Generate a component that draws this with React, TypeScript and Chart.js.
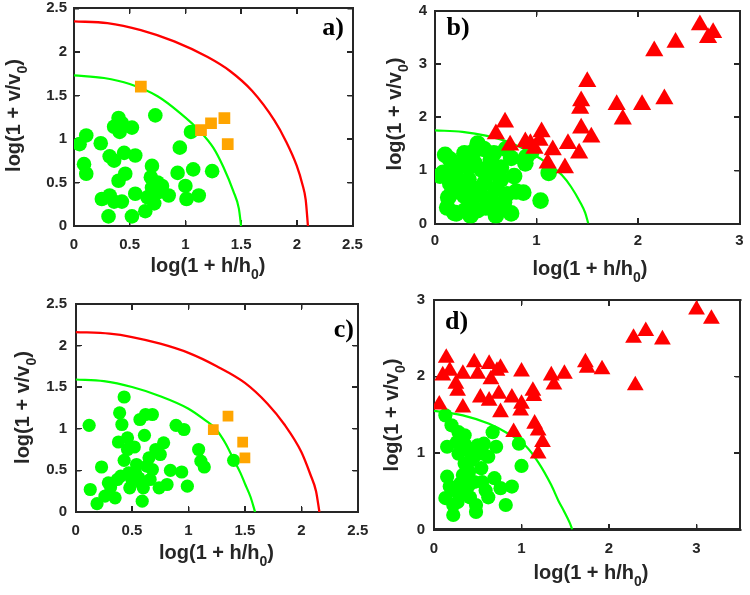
import { useEffect, useRef, useState } from "react";
import { Chart, registerables } from "chart.js";

Chart.register(...registerables);

type Pt = [number, number];

const GREEN = "#00ff00";
const RED = "#ff0000";
const ORANGE = "#ffa500";
const INK = "#262626";
const SANS = '"Liberation Sans", Arial, Helvetica, sans-serif';
const SERIF = '"Liberation Serif", "Times New Roman", serif';

// ---------- panel a ----------
const A_X_TICKS = [0, 0.5, 1, 1.5, 2, 2.5];
const A_Y_TICKS = [0, 0.5, 1, 1.5, 2, 2.5];
const A_RED_CURVE: Pt[] = [
  [0, 2.35], [0.3, 2.33], [0.6, 2.25], [0.9, 2.12], [1.2, 1.94], [1.4, 1.78],
  [1.6, 1.55], [1.8, 1.21], [1.9, 0.98], [2.0, 0.69], [2.05, 0.48], [2.08, 0.3], [2.1, 0],
];
const A_GREEN_CURVE: Pt[] = [
  [0, 1.73], [0.27, 1.7], [0.5, 1.63], [0.75, 1.49], [0.95, 1.3], [1.13, 1.09],
  [1.25, 0.9], [1.34, 0.68], [1.43, 0.4], [1.48, 0.2], [1.5, 0],
];
const A_CIRCLES: Pt[] = [
  [0.05, 0.94], [0.11, 1.04], [0.09, 0.71], [0.11, 0.6], [0.24, 0.95], [0.32, 0.8],
  [0.36, 0.75], [0.4, 1.24], [0.36, 1.14], [0.41, 1.08], [0.43, 1.18], [0.45, 0.84],
  [0.52, 1.13], [0.55, 0.81], [0.46, 0.6], [0.4, 0.52], [0.25, 0.31], [0.32, 0.35],
  [0.36, 0.28], [0.43, 0.28], [0.31, 0.11], [0.52, 0.11], [0.55, 0.37], [0.64, 0.17],
  [0.7, 0.69], [0.69, 0.56], [0.7, 0.44], [0.75, 0.5], [0.66, 0.33], [0.72, 0.26],
  [0.73, 1.27], [0.76, 0.39], [0.85, 0.35], [0.93, 0.61], [0.95, 0.9], [1.0, 0.46],
  [1.01, 0.31], [1.07, 0.65], [1.12, 0.35], [1.24, 0.63], [1.05, 1.08], [0.79, 0.46],
];
const A_SQUARES: Pt[] = [[0.6, 1.6], [1.14, 1.1], [1.23, 1.18], [1.35, 1.24], [1.38, 0.94]];

// ---------- panel b ----------
const B_X_TICKS = [0, 1, 2, 3];
const B_Y_TICKS = [0, 1, 2, 3, 4];
const B_GREEN_CURVE: Pt[] = [
  [0, 1.75], [0.27, 1.72], [0.5, 1.65], [0.75, 1.51], [0.95, 1.32], [1.13, 1.1],
  [1.25, 0.91], [1.34, 0.69], [1.43, 0.4], [1.48, 0.2], [1.51, 0],
];
const B_CIRCLES: Pt[] = [
  [0.1, 1.29], [0.08, 0.95], [0.29, 1.32], [0.42, 1.5], [0.39, 1.13], [0.58, 1.32],
  [0.54, 1.01], [0.75, 1.23], [0.89, 1.13], [0.17, 0.58], [0.29, 0.52], [0.21, 0.19],
  [0.42, 0.25], [0.62, 0.28], [0.75, 0.19], [0.71, 0.55], [0.87, 0.58], [1.04, 0.43],
  [1.12, 0.95], [0.49, 0.77], [0.65, 0.83], [0.33, 0.83], [0.78, 0.89], [0.2, 0.95],
  [0.55, 0.46], [0.36, 0.4], [0.46, 1.01], [0.33, 1.07], [0.13, 0.49], [0.19, 0.2],
  [0.05, 0.9], [0.15, 0.75], [0.25, 0.7], [0.3, 0.25], [0.45, 0.55], [0.5, 0.3],
  [0.6, 0.65], [0.65, 1.05], [0.7, 1.4], [0.55, 1.2], [0.48, 1.4], [0.38, 1.35],
  [0.25, 1.1], [0.15, 1.2], [0.6, 0.15], [0.35, 0.15], [0.12, 0.3], [0.4, 0.65],
  [0.68, 0.4], [0.8, 0.6], [0.9, 1.25], [0.95, 1.35], [0.58, 0.95],
];
const B_TRIANGLES: Pt[] = [
  [2.61, 3.73], [2.74, 3.58], [2.69, 3.49], [2.16, 3.24], [2.37, 3.4], [1.5, 2.66],
  [1.44, 2.3], [1.43, 2.16], [1.79, 2.23], [1.85, 1.96], [2.04, 2.23], [2.26, 2.34],
  [1.44, 1.79], [1.54, 1.62], [1.42, 1.32], [1.31, 1.5], [1.28, 1.04], [0.69, 1.9],
  [0.6, 1.68], [0.74, 1.47], [0.89, 1.53], [1.05, 1.72], [1.03, 1.56], [1.16, 1.38],
  [1.11, 1.13], [0.98, 1.41], [0.94, 1.5],
];

// ---------- panel c ----------
const C_X_TICKS = [0, 0.5, 1, 1.5, 2, 2.5];
const C_Y_TICKS = [0, 0.5, 1, 1.5, 2, 2.5];
const C_RED_CURVE: Pt[] = [
  [0, 2.16], [0.3, 2.14], [0.5, 2.1], [0.75, 2.02], [1.0, 1.91], [1.25, 1.75],
  [1.5, 1.55], [1.7, 1.3], [1.85, 1.05], [2.0, 0.72], [2.08, 0.45], [2.13, 0.25], [2.16, 0],
];
const C_GREEN_CURVE: Pt[] = [
  [0, 1.59], [0.25, 1.57], [0.5, 1.5], [0.75, 1.39], [1.0, 1.24], [1.15, 1.1],
  [1.24, 1.0], [1.33, 0.82], [1.4, 0.63], [1.46, 0.47], [1.5, 0.34], [1.55, 0.18], [1.59, 0],
];
const C_CIRCLES: Pt[] = [
  [0.12, 1.04], [0.43, 1.38], [0.39, 1.19], [0.41, 1.05], [0.38, 0.84], [0.46, 0.89],
  [0.52, 0.78], [0.57, 1.11], [0.62, 1.17], [0.68, 1.17], [0.61, 0.92], [0.43, 0.62],
  [0.23, 0.54], [0.13, 0.27], [0.19, 0.1], [0.26, 0.19], [0.29, 0.35], [0.37, 0.39],
  [0.35, 0.17], [0.47, 0.47], [0.53, 0.48], [0.56, 0.41], [0.48, 0.29], [0.59, 0.13],
  [0.6, 0.29], [0.66, 0.39], [0.65, 0.65], [0.71, 0.75], [0.75, 0.69], [0.78, 0.83],
  [0.74, 0.29], [0.81, 0.33], [0.84, 0.5], [0.94, 0.48], [0.99, 0.31], [0.89, 1.04],
  [0.96, 0.99], [1.09, 0.75], [1.11, 0.61], [1.14, 0.54], [1.4, 0.62], [0.63, 0.55],
  [0.54, 0.57], [0.68, 0.51], [0.46, 0.75], [0.58, 0.35], [0.5, 0.38], [0.4, 0.43],
  [0.31, 0.3],
];
const C_SQUARES: Pt[] = [[1.22, 0.99], [1.35, 1.15], [1.48, 0.84], [1.5, 0.65]];

// ---------- panel d ----------
const D_X_TICKS = [0, 1, 2, 3];
const D_Y_TICKS = [0, 1, 2, 3];
const D_GREEN_CURVE: Pt[] = [
  [0, 1.55], [0.33, 1.49], [0.63, 1.38], [0.85, 1.25], [1.04, 1.1], [1.19, 0.88],
  [1.34, 0.58], [1.42, 0.38], [1.49, 0.23], [1.55, 0.09], [1.58, 0],
];
const D_CIRCLES: Pt[] = [
  [0.13, 1.49], [0.2, 1.36], [0.28, 1.27], [0.35, 1.23], [0.26, 1.14], [0.15, 1.08],
  [0.28, 0.99], [0.39, 1.03], [0.5, 1.1], [0.57, 1.12], [0.71, 1.08], [0.67, 1.27],
  [0.46, 0.95], [0.35, 0.86], [0.54, 0.8], [0.97, 1.12], [1.0, 0.83], [0.15, 0.69],
  [0.33, 0.71], [0.39, 0.56], [0.24, 0.51], [0.13, 0.41], [0.22, 0.32], [0.22, 0.19],
  [0.48, 0.23], [0.48, 0.32], [0.59, 0.51], [0.69, 0.67], [0.76, 0.54], [0.89, 0.56],
  [0.82, 0.32], [0.31, 0.45], [0.46, 0.62], [0.56, 0.99], [0.42, 0.9], [0.62, 0.95],
  [0.4, 0.75], [0.3, 0.6], [0.55, 0.62], [0.27, 0.36], [0.41, 0.42], [0.62, 0.42],
  [0.18, 0.56], [0.36, 1.1],
];
const D_TRIANGLES: Pt[] = [
  [3.0, 2.87], [3.17, 2.75], [2.42, 2.59], [2.28, 2.5], [2.61, 2.48], [2.3, 1.88],
  [1.73, 2.18], [1.75, 2.11], [1.92, 2.09], [1.49, 2.03], [1.34, 2.01], [1.37, 1.89],
  [1.0, 2.06], [1.13, 1.81], [1.14, 1.74], [1.0, 1.64], [0.99, 1.55], [0.89, 1.72],
  [0.74, 1.77], [0.76, 1.53], [0.63, 1.68], [0.53, 1.72], [0.72, 2.07], [0.76, 2.11],
  [0.63, 2.16], [0.46, 2.18], [0.5, 2.03], [0.65, 1.96], [0.33, 2.03], [0.27, 1.81],
  [0.25, 1.9], [0.18, 2.07], [0.14, 2.24], [0.1, 2.01], [0.06, 1.63], [0.33, 1.59],
  [0.91, 1.27], [1.15, 1.38], [1.19, 1.29], [1.24, 1.14], [1.19, 0.99],
];

interface Panel {
  tag: string;
  left: number;
  top: number;
  width: number;
  height: number;
  area: { left: number; top: number; right: number; bottom: number };
  xMax: number;
  yMax: number;
  xTicks: number[];
  yTicks: number[];
  xTickPad: number;
  yTickPad: number;
  greenCurve: Pt[];
  redCurve?: Pt[];
  circles: Pt[];
  circleR: number;
  squares?: Pt[];
  squareR?: number;
  triangles?: Pt[];
  triangleR?: number;
  tagX: number;
  tagY: number;
  tagAlign: CanvasTextAlign;
  xTitleX: number;
  xTitleY: number;
  yTitleX: number;
  yTitleY: number;
}

const PANELS: Panel[] = [
  {
    tag: "a)", left: 0, top: 0, width: 375, height: 290,
    area: { left: 74, top: 5, right: 352.5, bottom: 226 },
    xMax: 2.5, yMax: 2.5, xTicks: A_X_TICKS, yTicks: A_Y_TICKS, xTickPad: 14.5, yTickPad: 12,
    greenCurve: A_GREEN_CURVE, redCurve: A_RED_CURVE,
    circles: A_CIRCLES, circleR: 7.3, squares: A_SQUARES, squareR: 8.3,
    tagX: 344, tagY: 35, tagAlign: "right",
    xTitleX: 208, xTitleY: 271.5, yTitleX: 20, yTitleY: 115.5,
  },
  {
    tag: "b)", left: 375, top: 0, width: 375, height: 290,
    area: { left: 60, top: 5.5, right: 370, bottom: 223.5 },
    xMax: 3, yMax: 4, xTicks: B_X_TICKS, yTicks: B_Y_TICKS, xTickPad: 13, yTickPad: 13,
    greenCurve: B_GREEN_CURVE,
    circles: B_CIRCLES, circleR: 8.3, triangles: B_TRIANGLES, triangleR: 10.5,
    tagX: 71.5, tagY: 35, tagAlign: "left",
    xTitleX: 215, xTitleY: 275, yTitleX: 26, yTitleY: 114,
  },
  {
    tag: "c)", left: 0, top: 290, width: 375, height: 305,
    area: { left: 75.6, top: 13.7, right: 357.8, bottom: 222 },
    xMax: 2.5, yMax: 2.5, xTicks: C_X_TICKS, yTicks: C_Y_TICKS, xTickPad: 14.5, yTickPad: 13.5,
    greenCurve: C_GREEN_CURVE, redCurve: C_RED_CURVE,
    circles: C_CIRCLES, circleR: 6.6, squares: C_SQUARES, squareR: 7.6,
    tagX: 354, tagY: 46.5, tagAlign: "right",
    xTitleX: 216.5, xTitleY: 269, yTitleX: 29, yTitleY: 117.5,
  },
  {
    tag: "d)", left: 375, top: 290, width: 375, height: 305,
    area: { left: 59, top: 9, right: 370.5, bottom: 239.5 },
    xMax: 3.5, yMax: 3, xTicks: D_X_TICKS, yTicks: D_Y_TICKS, xTickPad: 15, yTickPad: 14,
    greenCurve: D_GREEN_CURVE,
    circles: D_CIRCLES, circleR: 7.1, triangles: D_TRIANGLES, triangleR: 9.7,
    tagX: 70, tagY: 38.5, tagAlign: "left",
    xTitleX: 216, xTitleY: 289, yTitleX: 22.5, yTitleY: 125,
  },
];

const toXY = (pts: Pt[]) => pts.map(([x, y]) => ({ x, y }));

// Title with a subscript: pre + sub (lowered, smaller) + post, centred on cx.
function drawSubTitle(
  ctx: CanvasRenderingContext2D,
  pre: string,
  sub: string,
  post: string,
  cx: number,
  baseline: number
) {
  const main = `bold 20px ${SANS}`;
  const small = `bold 14px ${SANS}`;
  ctx.font = main;
  const w1 = ctx.measureText(pre).width;
  const w3 = ctx.measureText(post).width;
  ctx.font = small;
  const w2 = ctx.measureText(sub).width;
  let x = cx - (w1 + w2 + w3) / 2;
  ctx.textAlign = "left";
  ctx.textBaseline = "alphabetic";
  ctx.fillStyle = INK;
  ctx.font = main;
  ctx.fillText(pre, x, baseline);
  x += w1;
  ctx.font = small;
  ctx.fillText(sub, x, baseline + 7);
  x += w2;
  ctx.font = main;
  ctx.fillText(post, x, baseline);
}

// One side of the axes box: border line plus inward tick marks.
function boxAxis(
  position: "bottom" | "top" | "left" | "right",
  max: number,
  tickValues: number[],
  size: number,
  showLabels: boolean,
  pad: number
) {
  const horizontal = position === "bottom" || position === "top";
  return {
    type: "linear",
    position,
    min: 0,
    max,
    border: { display: true, color: INK, width: 2 },
    grid: {
      display: true,
      drawOnChartArea: false,
      drawTicks: true,
      tickLength: -5,
      color: INK,
      lineWidth: 1.5,
    },
    ticks: {
      display: showLabels,
      font: { family: SANS, size: 15, weight: "bold" },
      color: INK,
      padding: pad,
      maxRotation: 0,
      autoSkip: false,
      callback: (v: number | string) => String(v),
    },
    afterBuildTicks: (s: any) => {
      s.ticks = tickValues.map((v) => ({ value: v }));
    },
    afterFit: (s: any) => {
      if (horizontal) {
        s.height = size;
        s.paddingLeft = 0;
        s.paddingRight = 0;
      } else {
        s.width = size;
        s.paddingTop = 0;
        s.paddingBottom = 0;
      }
    },
  };
}

function buildChart(canvas: HTMLCanvasElement, p: Panel) {
  const datasets: any[] = [];
  if (p.redCurve) {
    datasets.push({
      type: "line", data: toXY(p.redCurve), borderColor: RED, borderWidth: 2.3,
      pointRadius: 0, fill: false, cubicInterpolationMode: "monotone", order: 4,
    });
  }
  datasets.push({
    type: "line", data: toXY(p.greenCurve), borderColor: GREEN, borderWidth: 2.2,
    pointRadius: 0, fill: false, cubicInterpolationMode: "monotone", order: 3,
  });
  datasets.push({
    data: toXY(p.circles), pointStyle: "circle", pointRadius: p.circleR,
    backgroundColor: GREEN, borderColor: GREEN, borderWidth: 0, order: 2,
  });
  if (p.squares) {
    datasets.push({
      data: toXY(p.squares), pointStyle: "rect", pointRadius: p.squareR,
      backgroundColor: ORANGE, borderColor: ORANGE, borderWidth: 0, order: 1,
    });
  }
  if (p.triangles) {
    datasets.push({
      data: toXY(p.triangles), pointStyle: "triangle", pointRadius: p.triangleR,
      backgroundColor: RED, borderColor: RED, borderWidth: 0, order: 1,
    });
  }

  // Axis titles (with subscripts) and the panel tag.
  const titlePlugin = {
    id: "panelTitles",
    afterDraw(chart: any) {
      const ctx: CanvasRenderingContext2D = chart.ctx;
      ctx.save();
      drawSubTitle(ctx, "log(1 + h/h", "0", ")", p.xTitleX, p.xTitleY);
      ctx.save();
      ctx.translate(p.yTitleX, p.yTitleY);
      ctx.rotate(-Math.PI / 2);
      drawSubTitle(ctx, "log(1 + v/v", "0", ")", 0, 0);
      ctx.restore();
      ctx.font = `bold 26px ${SERIF}`;
      ctx.fillStyle = "#000000";
      ctx.textAlign = p.tagAlign;
      ctx.textBaseline = "alphabetic";
      ctx.fillText(p.tag, p.tagX, p.tagY);
      ctx.restore();
    },
  };

  return new Chart(canvas, {
    type: "scatter",
    data: { datasets },
    options: {
      responsive: false,
      animation: false,
      events: [],
      layout: {
        padding: { left: 0, top: p.area.top, right: p.width - p.area.right, bottom: 0 },
      },
      plugins: { legend: { display: false }, tooltip: { enabled: false } },
      scales: {
        x: boxAxis("bottom", p.xMax, p.xTicks, p.height - p.area.bottom, true, p.xTickPad),
        y: boxAxis("left", p.yMax, p.yTicks, p.area.left, true, p.yTickPad),
        xTop: boxAxis("top", p.xMax, p.xTicks, 0, false, 0),
        yRight: boxAxis("right", p.yMax, p.yTicks, 0, false, 0),
      },
    } as any,
    plugins: [titlePlugin],
  });
}

interface BoxGeom {
  left: number;
  top: number;
  right: number;
  bottom: number;
  xPx: number[];
  yPx: number[];
}

function PanelCanvas({ panel }: { panel: Panel }) {
  const ref = useRef<HTMLCanvasElement | null>(null);
  const [box, setBox] = useState<BoxGeom | null>(null);
  useEffect(() => {
    if (!ref.current) return;
    const chart = buildChart(ref.current, panel);
    const a = chart.chartArea;
    const xs = chart.scales.x;
    const ys = chart.scales.y;
    setBox({
      left: a.left,
      top: a.top,
      right: a.right,
      bottom: a.bottom,
      xPx: panel.xTicks.map((v) => xs.getPixelForValue(v)),
      yPx: panel.yTicks.map((v) => ys.getPixelForValue(v)),
    });
    return () => chart.destroy();
  }, [panel]);

  const tickStyle = (l: number, t: number, w: number, h: number) => ({
    position: "absolute" as const,
    left: l,
    top: t,
    width: w,
    height: h,
    background: INK,
  });

  return (
    <div
      style={{
        position: "absolute",
        left: panel.left,
        top: panel.top,
        width: panel.width,
        height: panel.height,
      }}
    >
      {box && (
        <>
          <div
            style={{
              position: "absolute",
              left: box.left - 1,
              top: box.top - 1,
              width: box.right - box.left + 2,
              height: box.bottom - box.top + 2,
              border: `2px solid ${INK}`,
              boxSizing: "border-box",
            }}
          />
          {box.xPx
            .filter((x) => x > box.left + 1 && x < box.right - 1)
            .map((x, i) => (
              <div key={`xt${i}`}>
                <div style={tickStyle(x - 0.75, box.bottom - 6, 1.5, 5)} />
                <div style={tickStyle(x - 0.75, box.top + 1, 1.5, 5)} />
              </div>
            ))}
          {box.yPx
            .filter((y) => y > box.top + 1 && y < box.bottom - 1)
            .map((y, i) => (
              <div key={`yt${i}`}>
                <div style={tickStyle(box.left + 1, y - 0.75, 5, 1.5)} />
                <div style={tickStyle(box.right - 6, y - 0.75, 5, 1.5)} />
              </div>
            ))}
        </>
      )}
      <canvas
        ref={ref}
        width={panel.width}
        height={panel.height}
        style={{
          position: "absolute",
          left: 0,
          top: 0,
          width: panel.width,
          height: panel.height,
        }}
      />
    </div>
  );
}

export default function App() {
  return (
    <div
      style={{
        position: "absolute",
        left: 0,
        top: 0,
        width: 750,
        height: 595,
        background: "#ffffff",
        overflow: "hidden",
      }}
    >
      {PANELS.map((p) => (
        <PanelCanvas key={p.tag} panel={p} />
      ))}
    </div>
  );
}
